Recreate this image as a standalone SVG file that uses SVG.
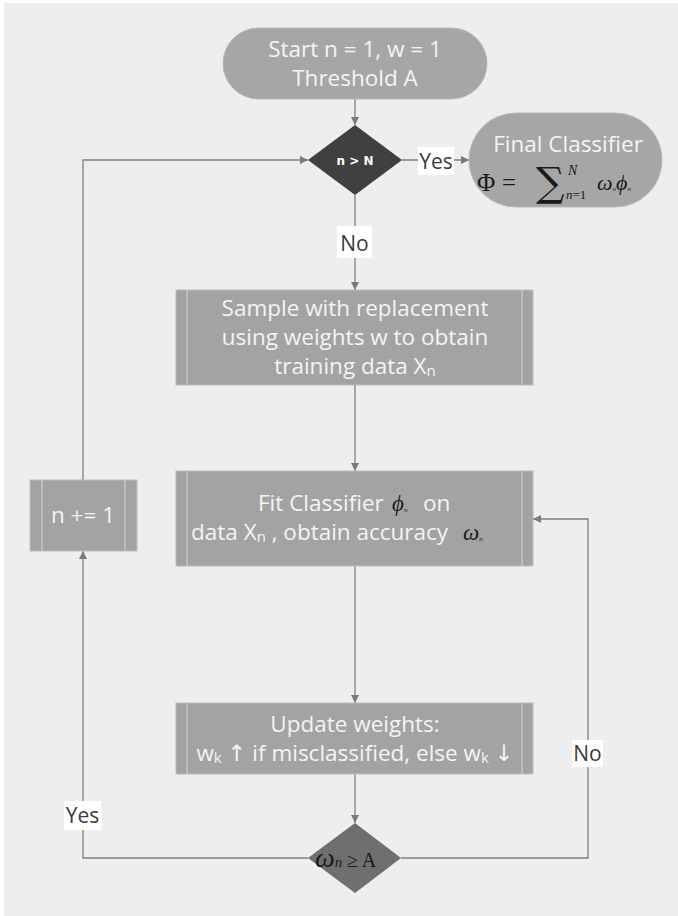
<svg xmlns="http://www.w3.org/2000/svg" width="678" height="916" viewBox="0 0 678 916">
<defs>
<marker id="arr" viewBox="0 0 10 10" refX="10" refY="5" markerWidth="8" markerHeight="8" markerUnits="userSpaceOnUse" orient="auto">
<path d="M0,0 L10,5 L0,10 z" fill="#7a7a7a"/>
</marker>
<style>
.bg{fill:#eeeeee}
.box{fill:#a3a3a3;stroke:#bcbcbc;stroke-width:1}
.sep{stroke:#cdcdcd;stroke-width:1.2}
.pill{fill:#a6a6a6;stroke:#b8b8b8;stroke-width:1}
.t{font-family:"Open Sans","Noto Sans","DejaVu Sans",sans-serif;font-size:22.5px;fill:#f4f4f4;text-anchor:middle}
.ts{font-family:"Open Sans","Noto Sans","DejaVu Sans",sans-serif;font-size:22.5px;fill:#f4f4f4}
.lbl{font-family:"Open Sans","Noto Sans","DejaVu Sans",sans-serif;font-size:21px;fill:#3a3a3a;text-anchor:middle}
.lblbg{fill:#ffffff}
.m{font-family:"Liberation Serif","Times New Roman",serif;fill:#1a1a1a}
.edge{fill:none;stroke:#808080;stroke-width:1.3}
</style>
</defs>
<rect class="bg" x="4" y="3" width="674" height="913"/>

<g id="connectors">
<path class="edge" d="M355 99 V125" marker-end="url(#arr)"/>
<path class="edge" d="M402 160 H469" marker-end="url(#arr)"/>
<path class="edge" d="M355 195 V290" marker-end="url(#arr)"/>
<path class="edge" d="M355 385 V471" marker-end="url(#arr)"/>
<path class="edge" d="M355 566 V703" marker-end="url(#arr)"/>
<path class="edge" d="M355 774 V823" marker-end="url(#arr)"/>
<path class="edge" d="M308 858 H83 V551" marker-end="url(#arr)"/>
<path class="edge" d="M83 480 V160 H308" marker-end="url(#arr)"/>
<path class="edge" d="M401 858 H588 V519 H533" marker-end="url(#arr)"/>
<rect class="lblbg" x="418" y="147" width="36" height="28"/>
<text class="lbl" x="436" y="169">Yes</text>
<rect class="lblbg" x="337" y="226" width="35" height="32"/>
<text class="lbl" x="354.500" y="251">No</text>
<rect class="lblbg" x="64" y="801" width="37" height="29"/>
<text class="lbl" x="82.500" y="823">Yes</text>
<rect class="lblbg" x="572" y="740" width="31" height="27"/>
<text class="lbl" x="587.500" y="761">No</text>
</g>

<g id="start">
<rect class="pill" x="223" y="28" width="264" height="71" rx="35.500"/>
<text class="t" x="355" y="57" font-size="24">Start n = 1, w = 1</text>
<text class="t" x="355" y="86" font-size="24">Threshold A</text>
</g>

<g id="decision-n">
<polygon points="355,125 402,160 355,195 308,160" fill="#404040"/>
<text x="355" y="165" font-family="'DejaVu Sans','Noto Sans',sans-serif" font-size="12" font-weight="bold" fill="#ffffff" text-anchor="middle">n &gt; N</text>
</g>

<g id="final">
<rect class="pill" x="469" y="113" width="193" height="94" rx="47"/>
<text class="t" x="568" y="152">Final Classifier</text>
<text class="m" x="477" y="191" font-size="25">Φ</text>
<text class="m" x="502" y="191" font-size="25">=</text>
<text x="536" y="196" font-family="'DejaVu Serif',serif" font-size="40" fill="#1a1a1a">∑</text>
<text class="m" x="568" y="175" font-size="14" font-style="italic">N</text>
<text class="m" x="566" y="199" font-size="13"><tspan font-style="italic">n</tspan>=1</text>
<text class="m" x="597" y="190" font-size="22" font-style="italic">ω<tspan font-size="7" dy="1">n</tspan></text>
<text class="m" x="616" y="190" font-size="22" font-style="italic">ϕ<tspan font-size="7" dy="1">n</tspan></text>
</g>

<g id="sample">
<rect class="box" x="176" y="290" width="357" height="95"/>
<line class="sep" x1="187" y1="290" x2="187" y2="385"/>
<line class="sep" x1="522" y1="290" x2="522" y2="385"/>
<text class="t" x="355" y="316">Sample with replacement</text>
<text class="t" x="355" y="345">using weights w to obtain</text>
<text class="t" x="355" y="374">training data X<tspan font-size="15" dy="2">n</tspan></text>
</g>

<g id="fit">
<rect class="box" x="176" y="471" width="357" height="95"/>
<line class="sep" x1="187" y1="471" x2="187" y2="566"/>
<line class="sep" x1="522" y1="471" x2="522" y2="566"/>
<text class="ts" x="258" y="511">Fit Classifier</text>
<text class="m" x="392" y="511" font-size="23" font-style="italic">ϕ<tspan font-size="7" dy="1">n</tspan></text>
<text class="ts" x="423" y="511">on</text>
<text class="ts" x="191" y="540">data X<tspan font-size="15" dy="2">n</tspan><tspan dy="-2"> , obtain accuracy</tspan></text>
<text class="m" x="463" y="540" font-size="23" font-style="italic">ω<tspan font-size="7" dy="1">n</tspan></text>
</g>

<g id="update">
<rect class="box" x="176" y="703" width="357" height="71"/>
<line class="sep" x1="187" y1="703" x2="187" y2="774"/>
<line class="sep" x1="522" y1="703" x2="522" y2="774"/>
<text class="t" x="355" y="732">Update weights:</text>
<text class="t" x="355" y="761" font-size="22">w<tspan font-size="15" dy="2">k</tspan><tspan dy="-2"> ↑ if misclassified, else w</tspan><tspan font-size="15" dy="2">k</tspan><tspan dy="-2"> ↓</tspan></text>
</g>

<g id="decision-acc">
<polygon points="355,823 401,858 355,893 308,858" fill="#6f6f6f"/>
<text class="m" x="315" y="867" font-size="28" font-style="italic">ω<tspan font-size="15">n</tspan></text>
<text class="m" x="347" y="867" font-size="20">≥ A</text>
</g>

<g id="increment">
<rect class="box" x="30" y="480" width="107" height="71"/>
<line class="sep" x1="42" y1="480" x2="42" y2="551"/>
<line class="sep" x1="125" y1="480" x2="125" y2="551"/>
<text class="t" x="83" y="523" font-size="25">n += 1</text>
</g>
</svg>
